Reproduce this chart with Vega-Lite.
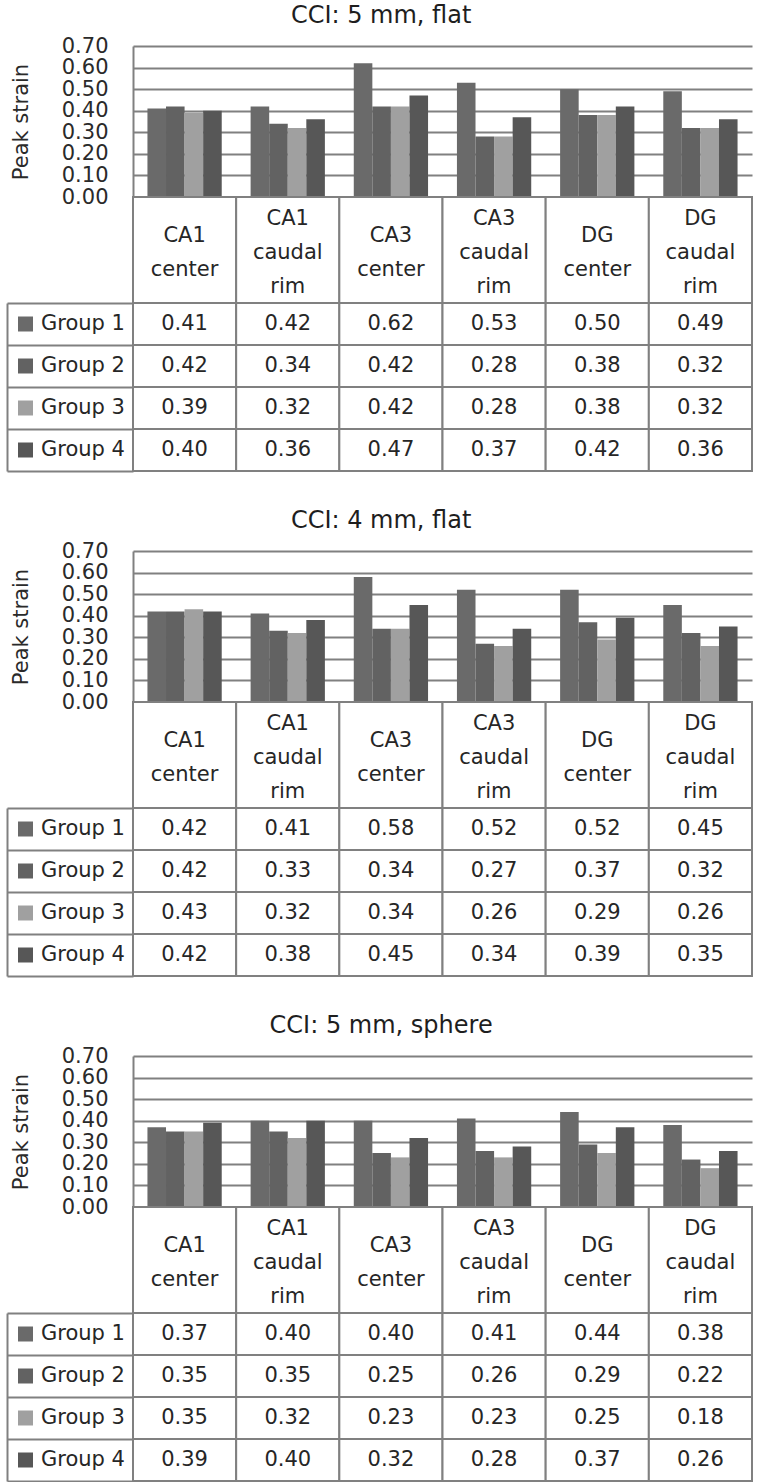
{
  "$schema": "https://vega.github.io/schema/vega-lite/v6.json",
  "background": "white",
  "padding": {"left": 6, "top": 4, "right": 4, "bottom": 0},
  "config": {"font": "DejaVu Sans", "view": {"stroke": null}},
  "datasets": {
    "strain": [
      {"panel": 1, "region": "CA1\ncenter", "group": "Group 1", "value": 0.41},
      {"panel": 1, "region": "CA1\ncaudal\nrim", "group": "Group 1", "value": 0.42},
      {"panel": 1, "region": "CA3\ncenter", "group": "Group 1", "value": 0.62},
      {"panel": 1, "region": "CA3\ncaudal\nrim", "group": "Group 1", "value": 0.53},
      {"panel": 1, "region": "DG\ncenter", "group": "Group 1", "value": 0.50},
      {"panel": 1, "region": "DG\ncaudal\nrim", "group": "Group 1", "value": 0.49},
      {"panel": 1, "region": "CA1\ncenter", "group": "Group 2", "value": 0.42},
      {"panel": 1, "region": "CA1\ncaudal\nrim", "group": "Group 2", "value": 0.34},
      {"panel": 1, "region": "CA3\ncenter", "group": "Group 2", "value": 0.42},
      {"panel": 1, "region": "CA3\ncaudal\nrim", "group": "Group 2", "value": 0.28},
      {"panel": 1, "region": "DG\ncenter", "group": "Group 2", "value": 0.38},
      {"panel": 1, "region": "DG\ncaudal\nrim", "group": "Group 2", "value": 0.32},
      {"panel": 1, "region": "CA1\ncenter", "group": "Group 3", "value": 0.39},
      {"panel": 1, "region": "CA1\ncaudal\nrim", "group": "Group 3", "value": 0.32},
      {"panel": 1, "region": "CA3\ncenter", "group": "Group 3", "value": 0.42},
      {"panel": 1, "region": "CA3\ncaudal\nrim", "group": "Group 3", "value": 0.28},
      {"panel": 1, "region": "DG\ncenter", "group": "Group 3", "value": 0.38},
      {"panel": 1, "region": "DG\ncaudal\nrim", "group": "Group 3", "value": 0.32},
      {"panel": 1, "region": "CA1\ncenter", "group": "Group 4", "value": 0.40},
      {"panel": 1, "region": "CA1\ncaudal\nrim", "group": "Group 4", "value": 0.36},
      {"panel": 1, "region": "CA3\ncenter", "group": "Group 4", "value": 0.47},
      {"panel": 1, "region": "CA3\ncaudal\nrim", "group": "Group 4", "value": 0.37},
      {"panel": 1, "region": "DG\ncenter", "group": "Group 4", "value": 0.42},
      {"panel": 1, "region": "DG\ncaudal\nrim", "group": "Group 4", "value": 0.36},
      {"panel": 2, "region": "CA1\ncenter", "group": "Group 1", "value": 0.42},
      {"panel": 2, "region": "CA1\ncaudal\nrim", "group": "Group 1", "value": 0.41},
      {"panel": 2, "region": "CA3\ncenter", "group": "Group 1", "value": 0.58},
      {"panel": 2, "region": "CA3\ncaudal\nrim", "group": "Group 1", "value": 0.52},
      {"panel": 2, "region": "DG\ncenter", "group": "Group 1", "value": 0.52},
      {"panel": 2, "region": "DG\ncaudal\nrim", "group": "Group 1", "value": 0.45},
      {"panel": 2, "region": "CA1\ncenter", "group": "Group 2", "value": 0.42},
      {"panel": 2, "region": "CA1\ncaudal\nrim", "group": "Group 2", "value": 0.33},
      {"panel": 2, "region": "CA3\ncenter", "group": "Group 2", "value": 0.34},
      {"panel": 2, "region": "CA3\ncaudal\nrim", "group": "Group 2", "value": 0.27},
      {"panel": 2, "region": "DG\ncenter", "group": "Group 2", "value": 0.37},
      {"panel": 2, "region": "DG\ncaudal\nrim", "group": "Group 2", "value": 0.32},
      {"panel": 2, "region": "CA1\ncenter", "group": "Group 3", "value": 0.43},
      {"panel": 2, "region": "CA1\ncaudal\nrim", "group": "Group 3", "value": 0.32},
      {"panel": 2, "region": "CA3\ncenter", "group": "Group 3", "value": 0.34},
      {"panel": 2, "region": "CA3\ncaudal\nrim", "group": "Group 3", "value": 0.26},
      {"panel": 2, "region": "DG\ncenter", "group": "Group 3", "value": 0.29},
      {"panel": 2, "region": "DG\ncaudal\nrim", "group": "Group 3", "value": 0.26},
      {"panel": 2, "region": "CA1\ncenter", "group": "Group 4", "value": 0.42},
      {"panel": 2, "region": "CA1\ncaudal\nrim", "group": "Group 4", "value": 0.38},
      {"panel": 2, "region": "CA3\ncenter", "group": "Group 4", "value": 0.45},
      {"panel": 2, "region": "CA3\ncaudal\nrim", "group": "Group 4", "value": 0.34},
      {"panel": 2, "region": "DG\ncenter", "group": "Group 4", "value": 0.39},
      {"panel": 2, "region": "DG\ncaudal\nrim", "group": "Group 4", "value": 0.35},
      {"panel": 3, "region": "CA1\ncenter", "group": "Group 1", "value": 0.37},
      {"panel": 3, "region": "CA1\ncaudal\nrim", "group": "Group 1", "value": 0.40},
      {"panel": 3, "region": "CA3\ncenter", "group": "Group 1", "value": 0.40},
      {"panel": 3, "region": "CA3\ncaudal\nrim", "group": "Group 1", "value": 0.41},
      {"panel": 3, "region": "DG\ncenter", "group": "Group 1", "value": 0.44},
      {"panel": 3, "region": "DG\ncaudal\nrim", "group": "Group 1", "value": 0.38},
      {"panel": 3, "region": "CA1\ncenter", "group": "Group 2", "value": 0.35},
      {"panel": 3, "region": "CA1\ncaudal\nrim", "group": "Group 2", "value": 0.35},
      {"panel": 3, "region": "CA3\ncenter", "group": "Group 2", "value": 0.25},
      {"panel": 3, "region": "CA3\ncaudal\nrim", "group": "Group 2", "value": 0.26},
      {"panel": 3, "region": "DG\ncenter", "group": "Group 2", "value": 0.29},
      {"panel": 3, "region": "DG\ncaudal\nrim", "group": "Group 2", "value": 0.22},
      {"panel": 3, "region": "CA1\ncenter", "group": "Group 3", "value": 0.35},
      {"panel": 3, "region": "CA1\ncaudal\nrim", "group": "Group 3", "value": 0.32},
      {"panel": 3, "region": "CA3\ncenter", "group": "Group 3", "value": 0.23},
      {"panel": 3, "region": "CA3\ncaudal\nrim", "group": "Group 3", "value": 0.23},
      {"panel": 3, "region": "DG\ncenter", "group": "Group 3", "value": 0.25},
      {"panel": 3, "region": "DG\ncaudal\nrim", "group": "Group 3", "value": 0.18},
      {"panel": 3, "region": "CA1\ncenter", "group": "Group 4", "value": 0.39},
      {"panel": 3, "region": "CA1\ncaudal\nrim", "group": "Group 4", "value": 0.40},
      {"panel": 3, "region": "CA3\ncenter", "group": "Group 4", "value": 0.32},
      {"panel": 3, "region": "CA3\ncaudal\nrim", "group": "Group 4", "value": 0.28},
      {"panel": 3, "region": "DG\ncenter", "group": "Group 4", "value": 0.37},
      {"panel": 3, "region": "DG\ncaudal\nrim", "group": "Group 4", "value": 0.26}
    ]
  },
  "resolve": {"scale": {"color": "independent"}, "legend": {"color": "independent"}},
  "spacing": 37,
  "vconcat": [
    {
      "bounds": "flush",
      "spacing": 0,
      "resolve": {"scale": {"color": "independent"}, "legend": {"color": "independent"}},
      "vconcat": [
        {
          "width": 619, "height": 151,
          "title": {"text": "CCI: 5 mm, flat", "frame": "bounds", "anchor": "middle", "fontSize": 24, "fontWeight": "normal", "color": "#1e1e1e", "offset": 7},
          "data": {"name": "strain"},
          "transform": [{"filter": "datum.panel == 1"}],
          "mark": {"type": "bar"},
          "encoding": {
            "x": {"field": "region", "type": "nominal", "sort": ["CA1\ncenter", "CA1\ncaudal\nrim", "CA3\ncenter", "CA3\ncaudal\nrim", "DG\ncenter", "DG\ncaudal\nrim"], "scale": {"paddingInner": 0.28, "paddingOuter": 0.14}, "axis": null},
            "xOffset": {"field": "group", "type": "nominal", "sort": ["Group 1", "Group 2", "Group 3", "Group 4"], "scale": {"paddingInner": 0, "paddingOuter": 0}},
            "y": {"field": "value", "type": "quantitative", "scale": {"domain": [0, 0.7], "nice": false},
              "axis": {"values": [0, 0.1, 0.2, 0.3, 0.4, 0.5, 0.6, 0.7], "format": ".2f", "grid": true, "gridColor": "#808080", "gridWidth": 2, "domain": true, "domainColor": "#808080", "domainWidth": 2, "ticks": false, "labelPadding": 25, "labelFontSize": 21, "labelColor": "#2a2a2a", "labelOverlap": false, "labelFlush": false, "labelBound": false, "title": "Peak strain", "titleFontSize": 21, "titleFontWeight": "normal", "titleColor": "#2a2a2a", "titlePadding": 30}},
            "color": {"field": "group", "type": "nominal", "scale": {"domain": ["Group 1", "Group 2", "Group 3", "Group 4"], "range": ["#6a6a6a", "#626262", "#a0a0a0", "#575757"]},
              "legend": {"orient": "none", "legendX": -118, "legendY": 257, "title": null, "symbolType": "square", "symbolSize": 225, "symbolStrokeWidth": 0, "labelFontSize": 21, "labelColor": "#262626", "labelOffset": 5, "clipHeight": 42, "rowPadding": 0, "padding": 0}}
          }
        },
        {
          "width": 619, "height": 106,
          "data": {"name": "strain"},
          "transform": [{"filter": "datum.panel == 1 && datum.group == 'Group 1'"}],
          "encoding": {"x": {"field": "region", "type": "nominal", "sort": ["CA1\ncenter", "CA1\ncaudal\nrim", "CA3\ncenter", "CA3\ncaudal\nrim", "DG\ncenter", "DG\ncaudal\nrim"], "scale": {"paddingInner": 0, "paddingOuter": 0}, "axis": null}},
          "layer": [
            {"mark": {"type": "rect", "fill": "white", "stroke": "#808080", "strokeWidth": 2}},
            {"mark": {"type": "text", "fontSize": 21, "lineHeight": 34, "lineBreak": "\n", "baseline": "middle", "color": "#262626", "dy": {"expr": "3 - 17 * (length(split(datum.region, '\\n')) - 1)"}}, "encoding": {"text": {"field": "region", "type": "nominal"}}}
          ]
        },
        {
          "width": 619, "height": 168,
          "data": {"name": "strain"},
          "transform": [{"filter": "datum.panel == 1"}],
          "encoding": {
            "x": {"field": "region", "type": "nominal", "sort": ["CA1\ncenter", "CA1\ncaudal\nrim", "CA3\ncenter", "CA3\ncaudal\nrim", "DG\ncenter", "DG\ncaudal\nrim"], "scale": {"paddingInner": 0, "paddingOuter": 0}, "axis": null},
            "y": {"field": "group", "type": "nominal", "sort": ["Group 1", "Group 2", "Group 3", "Group 4"], "scale": {"paddingInner": 0, "paddingOuter": 0},
              "axis": {"orient": "left", "offset": 126, "domain": true, "domainColor": "#808080", "domainWidth": 2, "ticks": true, "tickSize": -126, "tickBand": "extent", "tickColor": "#808080", "tickWidth": 2, "labels": false, "title": null, "grid": false}}
          },
          "layer": [
            {"mark": {"type": "rect", "fill": "white", "stroke": "#808080", "strokeWidth": 2}},
            {"mark": {"type": "text", "fontSize": 21, "baseline": "middle", "color": "#262626"}, "encoding": {"text": {"field": "value", "type": "quantitative", "format": ".2f"}}}
          ]
        }
      ]
    },
    {
      "bounds": "flush",
      "spacing": 0,
      "resolve": {"scale": {"color": "independent"}, "legend": {"color": "independent"}},
      "vconcat": [
        {
          "width": 619, "height": 151,
          "title": {"text": "CCI: 4 mm, flat", "frame": "bounds", "anchor": "middle", "fontSize": 24, "fontWeight": "normal", "color": "#1e1e1e", "offset": 7},
          "data": {"name": "strain"},
          "transform": [{"filter": "datum.panel == 2"}],
          "mark": {"type": "bar"},
          "encoding": {
            "x": {"field": "region", "type": "nominal", "sort": ["CA1\ncenter", "CA1\ncaudal\nrim", "CA3\ncenter", "CA3\ncaudal\nrim", "DG\ncenter", "DG\ncaudal\nrim"], "scale": {"paddingInner": 0.28, "paddingOuter": 0.14}, "axis": null},
            "xOffset": {"field": "group", "type": "nominal", "sort": ["Group 1", "Group 2", "Group 3", "Group 4"], "scale": {"paddingInner": 0, "paddingOuter": 0}},
            "y": {"field": "value", "type": "quantitative", "scale": {"domain": [0, 0.7], "nice": false},
              "axis": {"values": [0, 0.1, 0.2, 0.3, 0.4, 0.5, 0.6, 0.7], "format": ".2f", "grid": true, "gridColor": "#808080", "gridWidth": 2, "domain": true, "domainColor": "#808080", "domainWidth": 2, "ticks": false, "labelPadding": 25, "labelFontSize": 21, "labelColor": "#2a2a2a", "labelOverlap": false, "labelFlush": false, "labelBound": false, "title": "Peak strain", "titleFontSize": 21, "titleFontWeight": "normal", "titleColor": "#2a2a2a", "titlePadding": 30}},
            "color": {"field": "group", "type": "nominal", "scale": {"domain": ["Group 1", "Group 2", "Group 3", "Group 4"], "range": ["#6a6a6a", "#626262", "#a0a0a0", "#575757"]},
              "legend": {"orient": "none", "legendX": -118, "legendY": 257, "title": null, "symbolType": "square", "symbolSize": 225, "symbolStrokeWidth": 0, "labelFontSize": 21, "labelColor": "#262626", "labelOffset": 5, "clipHeight": 42, "rowPadding": 0, "padding": 0}}
          }
        },
        {
          "width": 619, "height": 106,
          "data": {"name": "strain"},
          "transform": [{"filter": "datum.panel == 2 && datum.group == 'Group 1'"}],
          "encoding": {"x": {"field": "region", "type": "nominal", "sort": ["CA1\ncenter", "CA1\ncaudal\nrim", "CA3\ncenter", "CA3\ncaudal\nrim", "DG\ncenter", "DG\ncaudal\nrim"], "scale": {"paddingInner": 0, "paddingOuter": 0}, "axis": null}},
          "layer": [
            {"mark": {"type": "rect", "fill": "white", "stroke": "#808080", "strokeWidth": 2}},
            {"mark": {"type": "text", "fontSize": 21, "lineHeight": 34, "lineBreak": "\n", "baseline": "middle", "color": "#262626", "dy": {"expr": "3 - 17 * (length(split(datum.region, '\\n')) - 1)"}}, "encoding": {"text": {"field": "region", "type": "nominal"}}}
          ]
        },
        {
          "width": 619, "height": 168,
          "data": {"name": "strain"},
          "transform": [{"filter": "datum.panel == 2"}],
          "encoding": {
            "x": {"field": "region", "type": "nominal", "sort": ["CA1\ncenter", "CA1\ncaudal\nrim", "CA3\ncenter", "CA3\ncaudal\nrim", "DG\ncenter", "DG\ncaudal\nrim"], "scale": {"paddingInner": 0, "paddingOuter": 0}, "axis": null},
            "y": {"field": "group", "type": "nominal", "sort": ["Group 1", "Group 2", "Group 3", "Group 4"], "scale": {"paddingInner": 0, "paddingOuter": 0},
              "axis": {"orient": "left", "offset": 126, "domain": true, "domainColor": "#808080", "domainWidth": 2, "ticks": true, "tickSize": -126, "tickBand": "extent", "tickColor": "#808080", "tickWidth": 2, "labels": false, "title": null, "grid": false}}
          },
          "layer": [
            {"mark": {"type": "rect", "fill": "white", "stroke": "#808080", "strokeWidth": 2}},
            {"mark": {"type": "text", "fontSize": 21, "baseline": "middle", "color": "#262626"}, "encoding": {"text": {"field": "value", "type": "quantitative", "format": ".2f"}}}
          ]
        }
      ]
    },
    {
      "bounds": "flush",
      "spacing": 0,
      "resolve": {"scale": {"color": "independent"}, "legend": {"color": "independent"}},
      "vconcat": [
        {
          "width": 619, "height": 151,
          "title": {"text": "CCI: 5 mm, sphere", "frame": "bounds", "anchor": "middle", "fontSize": 24, "fontWeight": "normal", "color": "#1e1e1e", "offset": 7},
          "data": {"name": "strain"},
          "transform": [{"filter": "datum.panel == 3"}],
          "mark": {"type": "bar"},
          "encoding": {
            "x": {"field": "region", "type": "nominal", "sort": ["CA1\ncenter", "CA1\ncaudal\nrim", "CA3\ncenter", "CA3\ncaudal\nrim", "DG\ncenter", "DG\ncaudal\nrim"], "scale": {"paddingInner": 0.28, "paddingOuter": 0.14}, "axis": null},
            "xOffset": {"field": "group", "type": "nominal", "sort": ["Group 1", "Group 2", "Group 3", "Group 4"], "scale": {"paddingInner": 0, "paddingOuter": 0}},
            "y": {"field": "value", "type": "quantitative", "scale": {"domain": [0, 0.7], "nice": false},
              "axis": {"values": [0, 0.1, 0.2, 0.3, 0.4, 0.5, 0.6, 0.7], "format": ".2f", "grid": true, "gridColor": "#808080", "gridWidth": 2, "domain": true, "domainColor": "#808080", "domainWidth": 2, "ticks": false, "labelPadding": 25, "labelFontSize": 21, "labelColor": "#2a2a2a", "labelOverlap": false, "labelFlush": false, "labelBound": false, "title": "Peak strain", "titleFontSize": 21, "titleFontWeight": "normal", "titleColor": "#2a2a2a", "titlePadding": 30}},
            "color": {"field": "group", "type": "nominal", "scale": {"domain": ["Group 1", "Group 2", "Group 3", "Group 4"], "range": ["#6a6a6a", "#626262", "#a0a0a0", "#575757"]},
              "legend": {"orient": "none", "legendX": -118, "legendY": 257, "title": null, "symbolType": "square", "symbolSize": 225, "symbolStrokeWidth": 0, "labelFontSize": 21, "labelColor": "#262626", "labelOffset": 5, "clipHeight": 42, "rowPadding": 0, "padding": 0}}
          }
        },
        {
          "width": 619, "height": 106,
          "data": {"name": "strain"},
          "transform": [{"filter": "datum.panel == 3 && datum.group == 'Group 1'"}],
          "encoding": {"x": {"field": "region", "type": "nominal", "sort": ["CA1\ncenter", "CA1\ncaudal\nrim", "CA3\ncenter", "CA3\ncaudal\nrim", "DG\ncenter", "DG\ncaudal\nrim"], "scale": {"paddingInner": 0, "paddingOuter": 0}, "axis": null}},
          "layer": [
            {"mark": {"type": "rect", "fill": "white", "stroke": "#808080", "strokeWidth": 2}},
            {"mark": {"type": "text", "fontSize": 21, "lineHeight": 34, "lineBreak": "\n", "baseline": "middle", "color": "#262626", "dy": {"expr": "3 - 17 * (length(split(datum.region, '\\n')) - 1)"}}, "encoding": {"text": {"field": "region", "type": "nominal"}}}
          ]
        },
        {
          "width": 619, "height": 168,
          "data": {"name": "strain"},
          "transform": [{"filter": "datum.panel == 3"}],
          "encoding": {
            "x": {"field": "region", "type": "nominal", "sort": ["CA1\ncenter", "CA1\ncaudal\nrim", "CA3\ncenter", "CA3\ncaudal\nrim", "DG\ncenter", "DG\ncaudal\nrim"], "scale": {"paddingInner": 0, "paddingOuter": 0}, "axis": null},
            "y": {"field": "group", "type": "nominal", "sort": ["Group 1", "Group 2", "Group 3", "Group 4"], "scale": {"paddingInner": 0, "paddingOuter": 0},
              "axis": {"orient": "left", "offset": 126, "domain": true, "domainColor": "#808080", "domainWidth": 2, "ticks": true, "tickSize": -126, "tickBand": "extent", "tickColor": "#808080", "tickWidth": 2, "labels": false, "title": null, "grid": false}}
          },
          "layer": [
            {"mark": {"type": "rect", "fill": "white", "stroke": "#808080", "strokeWidth": 2}},
            {"mark": {"type": "text", "fontSize": 21, "baseline": "middle", "color": "#262626"}, "encoding": {"text": {"field": "value", "type": "quantitative", "format": ".2f"}}}
          ]
        }
      ]
    }
  ]
}
